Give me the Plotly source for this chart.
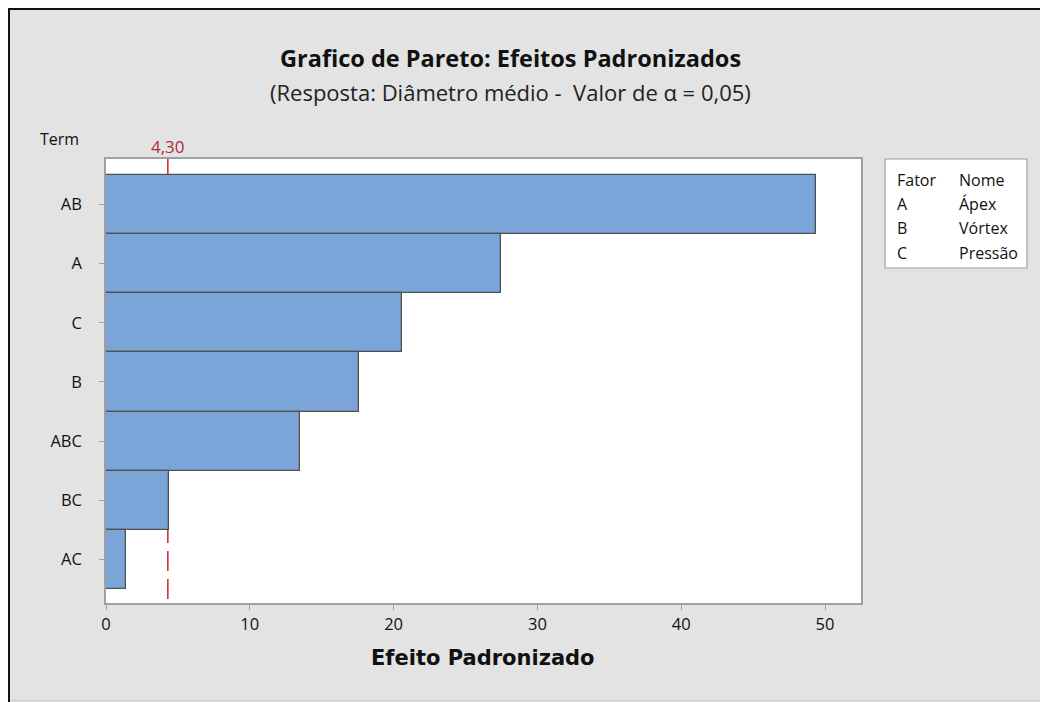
import plotly.graph_objects as go

# values
terms = ["AB", "A", "C", "B", "ABC", "BC", "AC"]
effects = [49.4, 27.5, 20.6, 17.6, 13.5, 4.35, 1.4]
critical = 4.30
critical_label = "4,30"
x_ticks = [0, 10, 20, 30, 40, 50]

legend_factors = ["A", "B", "C"]
legend_names = ["Ápex", "Vórtex", "Pressão"]

title = "Grafico de Pareto: Efeitos Padronizados"
subtitle = "(Resposta: Diâmetro médio -  Valor de α = 0,05)"

# the page body has an 8px margin, so the figure starts at (8, 8)
OFF = 8
PAGE_W, PAGE_H = 1048, 702
W, H = PAGE_W - OFF, PAGE_H - OFF
# plot area in page pixels
L, R, T, B = 106, 861, 159, 603

def px(x):
    return (x - L) / (R - L)

def py(y):
    return (B - y) / (B - T)

bar_color = "#7BA5D8"
edge_color = "#505050"
axis_color = "#A0A0A0"
red = "#D0202E"
text_color = "#111111"
label_font = "Open Sans"

fig = go.Figure()
fig.add_trace(go.Bar(
    x=effects,
    y=terms,
    orientation="h",
    width=1.0,
    marker=dict(color=bar_color, line=dict(color=edge_color, width=1.3)),
    showlegend=False,
))

fig.update_xaxes(
    range=[0, 52.5],
    tickvals=x_ticks,
    ticks="outside", ticklen=5, tickcolor=axis_color,
    showline=True, linecolor=axis_color, linewidth=1.5, mirror=True,
    showgrid=False, zeroline=False,
    tickfont=dict(family=label_font, size=16.5, color=text_color),
)
fig.update_yaxes(
    categoryorder="array", categoryarray=terms[::-1],
    range=[-0.737, 6.77],
    ticks="outside", ticklen=5, tickcolor=axis_color,
    showline=True, linecolor=axis_color, linewidth=1.5, mirror=True,
    showgrid=False, zeroline=False,
    ticklabelstandoff=14,
    tickfont=dict(family=label_font, size=16.5, color=text_color),
)

shapes = [
    # significance line, hidden behind the bars
    dict(type="line", xref="x", yref="paper", x0=critical, x1=critical, y0=1, y1=0,
         layer="below", line=dict(color=red, width=1.5, dash="20px,8px")),
    # black frame of the screenshot (top and left)
    dict(type="line", xref="paper", yref="paper", x0=px(OFF), x1=px(PAGE_W), y0=py(OFF + 1), y1=py(OFF + 1),
         line=dict(color="#111111", width=2), layer="above"),
    dict(type="line", xref="paper", yref="paper", x0=px(OFF + 1), x1=px(OFF + 1), y0=py(OFF), y1=py(PAGE_H),
         line=dict(color="#111111", width=2), layer="above"),
    dict(type="line", xref="paper", yref="paper", x0=px(OFF + 2), x1=px(PAGE_W), y0=py(700.5), y1=py(700.5),
         line=dict(color="#D0D0D0", width=1.5), layer="above"),
    # legend box
    dict(type="rect", xref="paper", yref="paper", x0=px(885), x1=px(1027), y0=py(159), y1=py(268),
         fillcolor="white", line=dict(color=axis_color, width=1.2), layer="above"),
]

def note(text, x, y, size, color=text_color, family=label_font, anchor="center", xref="paper"):
    return dict(text=text, x=x, y=y, xref=xref, yref="paper",
                showarrow=False, xanchor=anchor, yanchor="middle",
                font=dict(family=family, size=size, color=color))

annotations = [
    note("<b>" + title + "</b>", px(510), py(58), 23.5, color="#111111"),
    note(subtitle, px(510), py(92), 22, color="#222222"),
    note("Term", px(59), py(139), 16),
    note(critical_label, critical, py(146), 17, color="#B22A36", xref="x"),
    note("<b>Efeito Padronizado</b>", px(483), py(658), 21, color="#111111", family="DejaVu Sans"),
    note("Fator", px(895), py(180), 16, anchor="left"),
    note("Nome", px(957), py(180), 16, anchor="left"),
]
row_y = [204, 228, 253]
for f, n, yy in zip(legend_factors, legend_names, row_y):
    annotations.append(note(f, px(895), py(yy), 16, anchor="left"))
    annotations.append(note(n, px(957), py(yy), 16, anchor="left"))

fig.update_layout(
    width=W, height=H,
    margin=dict(l=L - OFF, r=PAGE_W - R, t=T - OFF, b=PAGE_H - B, pad=0),
    paper_bgcolor="#E3E3E3",
    plot_bgcolor="white",
    shapes=shapes,
    annotations=annotations,
    bargap=0,
)

fig.write_html("out.html")
